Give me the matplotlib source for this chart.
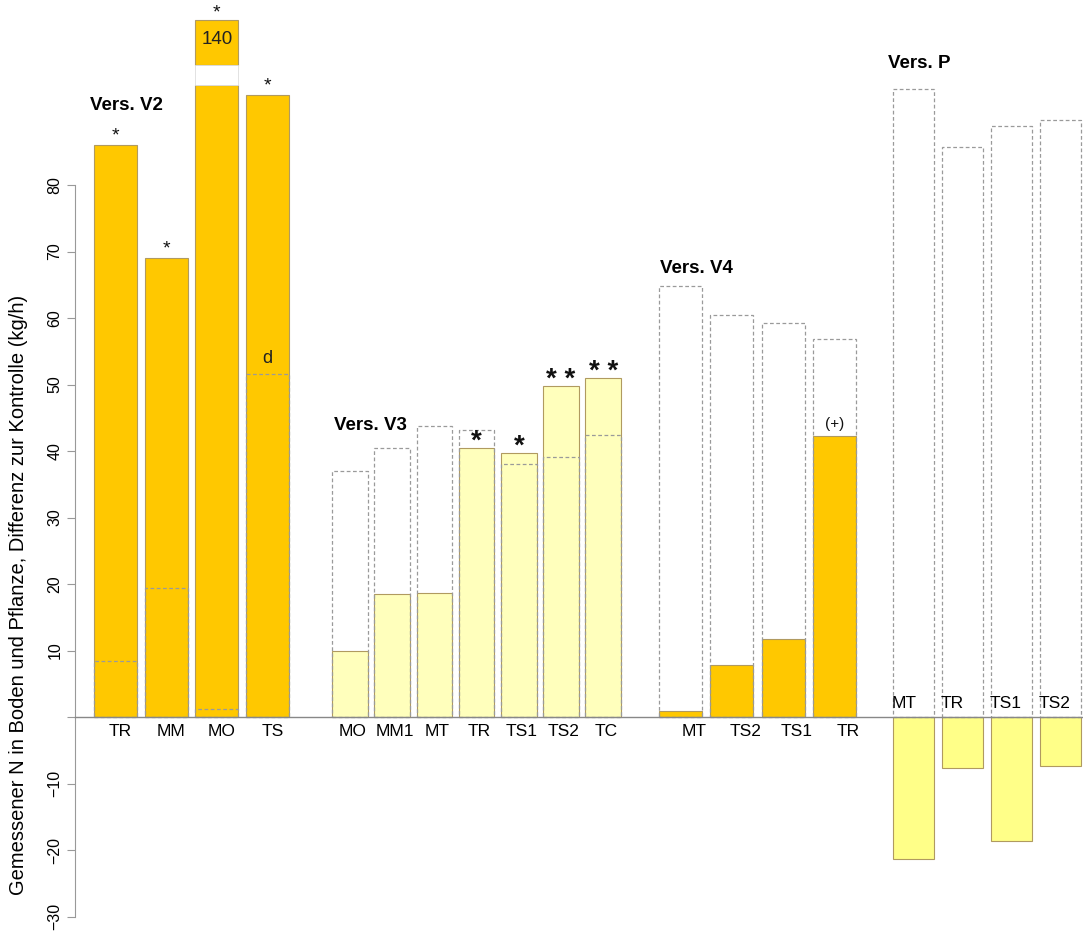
import matplotlib
matplotlib.use("Agg")
import matplotlib.pyplot as plt
from matplotlib.patches import Rectangle

plt.rcParams['font.family'] = ['Liberation Sans', 'DejaVu Sans']

# ---- data -------------------------------------------------------------
v2_labels = ["TR", "MM", "MO", "TS"]
v2_values = [86.0, 69.0, 140.0, 93.5]
v2_ref = [8.4, 19.4, 1.2, 51.6]
v2_marks = ["*", "*", "*", "*"]

v3_labels = ["MO", "MM1", "MT", "TR", "TS1", "TS2", "TC"]
v3_values = [10.0, 18.5, 18.7, 40.5, 39.7, 49.8, 51.0]
v3_ref = [37.0, 40.4, 43.7, 43.1, 38.0, 39.1, 42.4]
v3_marks = ["", "", "", "*", "*", "* *", "* *"]

v4_labels = ["MT", "TS2", "TS1", "TR"]
v4_values = [0.9, 7.8, 11.8, 42.3]
v4_ref = [64.8, 60.4, 59.3, 56.9]
v4_marks = ["", "", "", "(+)"]

p_labels = ["MT", "TR", "TS1", "TS2"]
p_values = [-21.3, -7.6, -18.6, -7.4]
p_ref = [94.5, 85.7, 88.9, 89.8]

ticks = [-30, -20, -10, 0, 10, 20, 30, 40, 50, 60, 70, 80]
tick_labels = ["\u221230", "\u221220", "\u221210", "", "10", "20", "30", "40",
               "50", "60", "70", "80"]

# ---- axis break for values that exceed the visible range ----------------
BREAK_LOW = 95.0      # visible scale ends here
BREAK_GAP = 3.0       # blank band drawn for the cut
SHOWN_TOP = 104.8     # where the clipped bar ends on the page


def shown(v):
    return v if v <= BREAK_LOW else SHOWN_TOP


ORANGE = "#FFC800"
PALE = "#FFFFBC"
YELLOW = "#FFFF88"
EDGE = "#B09A60"
DASH = "#9A9A9A"

fig = plt.figure(figsize=(10.83, 9.36), dpi=100)
ax = fig.add_axes([0, 0, 1, 1])
ax.set_xlim(0, 1083)
ax.set_ylim(-32.93, 107.82)


def draw_group(centers, width, values, refs, fill, marks=None,
               mark_size=13, mark_dy=1.6, mark_weight="normal"):
    for i, (c, v, r) in enumerate(zip(centers, values, refs)):
        top = shown(v)
        if v > BREAK_LOW:
            ax.bar(c, BREAK_LOW, width=width, color=fill, edgecolor=EDGE,
                   linewidth=0.8, zorder=2)
            lo = BREAK_LOW + BREAK_GAP
            ax.bar(c, top - lo, bottom=lo, width=width, color=fill,
                   edgecolor=EDGE, linewidth=0.8, zorder=2)
            ax.add_patch(Rectangle((c - width / 2, BREAK_LOW), width,
                                   BREAK_GAP, facecolor="white",
                                   edgecolor="#DDDDDD", linewidth=0.6,
                                   zorder=2))
            ax.text(c, top - 2.9, f"{v:g}", ha="center", va="center",
                    fontsize=13.5, color="#222222", zorder=4)
        else:
            ax.bar(c, v, width=width, color=fill, edgecolor=EDGE,
                   linewidth=0.8, zorder=2)
        # reference outline, dashed
        ax.bar(c, r, width=width, fill=False, edgecolor=DASH,
               linewidth=0.9, linestyle=(0, (3, 2)), zorder=3)
        if marks and marks[i]:
            dy = mark_dy if v <= BREAK_LOW else mark_dy * 0.8
            ax.text(c, max(top, 0) + dy, marks[i], ha="center",
                    va="center", fontsize=mark_size, color="#111111",
                    fontweight=mark_weight, zorder=4)


def centers_of(start, step, n):
    return [start + step * k for k in range(n)]


c2 = centers_of(115.5, 50.7, len(v2_labels))
c3 = centers_of(350.0, 42.2, len(v3_labels))
c4 = centers_of(680.0, 51.5, len(v4_labels))
cp = centers_of(913.0, 49.0, len(p_labels))

draw_group(c2, 43, v2_values, v2_ref, ORANGE, v2_marks, mark_size=14,
           mark_dy=1.4)
draw_group(c3, 35.5, v3_values, v3_ref, PALE, v3_marks, mark_size=20,
           mark_dy=0.9, mark_weight="bold")
draw_group(c4, 43, v4_values, v4_ref, ORANGE, v4_marks, mark_size=11,
           mark_dy=1.8)
draw_group(cp, 41, p_values, p_ref, YELLOW)

# extra annotation on the TS bar of the V2 group
ax.text(c2[3], v2_ref[3] + 2.3, "d", ha="center", va="center",
        fontsize=13, color="#222222", zorder=4)

# category labels
for c, lab in zip(c2, v2_labels):
    ax.text(c + 5, -2.2, lab, ha="center", va="center", fontsize=12.5)
for c, lab in zip(c3, v3_labels):
    ax.text(c + 3, -2.2, lab, ha="center", va="center", fontsize=12.5)
for c, lab in zip(c4, v4_labels):
    ax.text(c + 14, -2.2, lab, ha="center", va="center", fontsize=12.5)
for c, lab in zip(cp, p_labels):
    ax.text(c - 21, 2.1, lab, ha="left", va="center", fontsize=12.5)

# group headers
ax.text(90, 91.9, "Vers. V2", fontsize=13.5, fontweight="bold",
        ha="left", va="center")
ax.text(334, 43.9, "Vers. V3", fontsize=13.5, fontweight="bold",
        ha="left", va="center")
ax.text(660, 67.5, "Vers. V4", fontsize=13.5, fontweight="bold",
        ha="left", va="center")
ax.text(888, 98.2, "Vers. P", fontsize=13.5, fontweight="bold",
        ha="left", va="center")

# zero line
ax.plot([75, 1083], [0, 0], color="#888888", linewidth=1.0, zorder=5)

# y axis
for s in ["top", "right", "bottom"]:
    ax.spines[s].set_visible(False)
ax.spines["left"].set_position(("data", 75))
ax.spines["left"].set_bounds(-30, 80)
ax.spines["left"].set_color("#999999")
ax.set_yticks(ticks)
ax.set_yticklabels(tick_labels, rotation=90, va="center")
ax.tick_params(axis="y", direction="out", length=6, color="#999999",
               labelsize=11.5, pad=3)
ax.set_xticks([])
ax.patch.set_alpha(0)

fig.text(0.0175, 0.364,
         "Gemessener N in Boden und Pflanze, Differenz zur Kontrolle (kg/h)",
         rotation=90, ha="center", va="center", fontsize=14.5)

fig.savefig("out.png", dpi=100, facecolor="white")
